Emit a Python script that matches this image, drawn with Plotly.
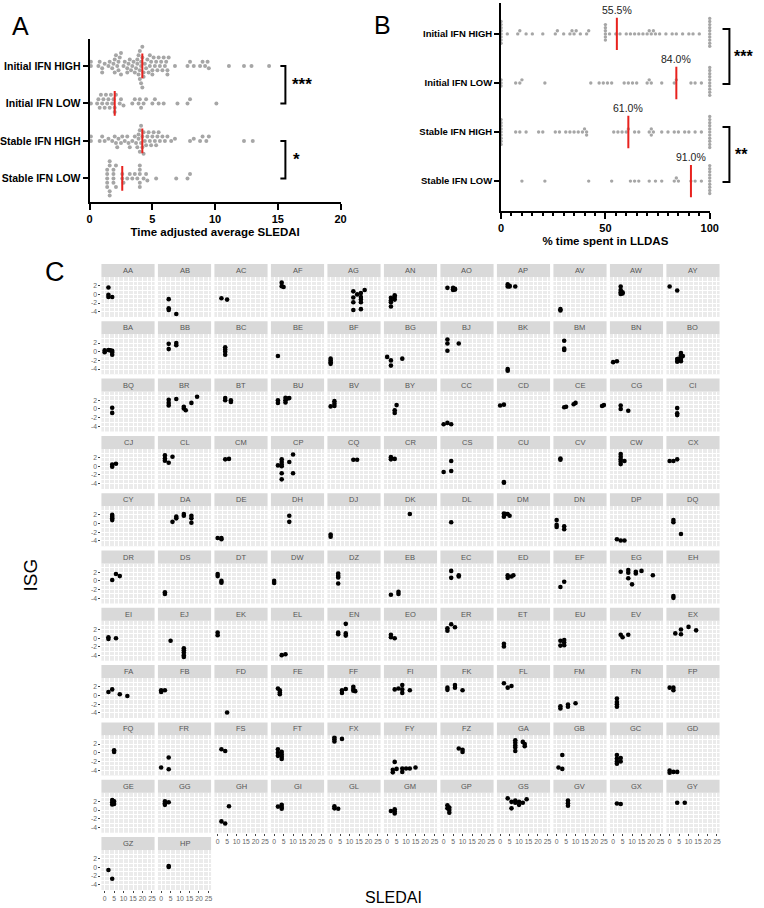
import plotly.graph_objects as go

W, H = 764, 908

# ---------------- data: panel A (time adjusted average SLEDAI) ----------------
groups = ["Initial IFN HIGH", "Initial IFN LOW", "Stable IFN HIGH", "Stable IFN LOW"]

sledai_initial_high = [0.1, 0.1, 0.7, 0.8, 1.0, 1.0, 1.2, 1.5, 1.6, 1.8, 1.9, 2.0, 2.0, 2.1, 2.2, 2.3,
                       2.3, 2.4, 2.5, 2.5, 2.7, 2.8, 3.0, 3.0, 3.1, 3.2, 3.3, 3.4, 3.5, 3.6, 3.7, 3.8,
                       3.8, 3.9, 3.9, 4.0, 4.0, 4.0, 4.1, 4.1, 4.1, 4.2, 4.2, 4.2, 4.3, 4.3, 4.4, 4.5,
                       4.6, 4.7, 4.8, 4.8, 4.9, 5.0, 5.0, 5.1, 5.2, 5.3, 5.4, 5.5, 5.6, 5.7, 5.8, 5.9,
                       6.0, 6.1, 6.2, 6.2, 6.3, 6.8, 7.8, 8.0, 8.3, 8.8, 9.0, 9.2, 9.4, 9.5, 11.1,
                       12.3, 12.9, 14.3]
sledai_initial_low = [0.1, 0.6, 0.7, 0.8, 0.9, 1.0, 1.1, 1.2, 1.3, 1.4, 1.5, 1.6, 1.7, 1.8, 1.9, 2.0,
                      2.0, 2.1, 2.4, 2.5, 2.7, 3.4, 3.6, 3.9, 4.0, 4.1, 4.3, 4.5, 5.0, 5.2, 5.5, 5.9,
                      7.0, 7.8, 8.0, 10.1]
sledai_stable_high = [0.1, 0.1, 0.8, 1.0, 1.2, 1.5, 1.8, 2.0, 2.1, 2.2, 2.3, 2.5, 2.6, 2.8, 3.0, 3.1,
                      3.2, 3.4, 3.6, 3.7, 3.8, 3.9, 3.9, 4.0, 4.0, 4.1, 4.1, 4.2, 4.2, 4.3, 4.3, 4.4,
                      4.5, 4.6, 4.7, 4.8, 4.9, 5.0, 5.1, 5.2, 5.3, 5.4, 5.5, 5.6, 5.8, 6.0, 6.2, 6.5,
                      6.8, 8.0, 8.3, 8.8, 9.0, 9.3, 9.5, 12.3, 13.0]
sledai_stable_low = [1.4, 1.4, 1.4, 1.4, 1.4, 1.6, 1.6, 1.6, 1.6, 1.9, 1.9, 1.9, 1.9, 2.1, 2.1, 2.6,
                     2.6, 2.7, 3.0, 3.2, 3.4, 3.6, 3.8, 4.0, 4.0, 4.0, 4.0, 4.0, 4.3, 4.5, 4.6, 5.3,
                     6.9, 7.8, 8.0]
sledai_medians = [4.2, 2.0, 4.2, 2.6]
sledai_ticks = [0, 5, 10, 15, 20]

# ---------------- data: panel B (% time spent in LLDAS) ----------------
lldas_initial_high = [0, 0, 0, 0, 0, 0, 0, 0, 3, 8, 9, 12, 15, 20, 26, 27, 30, 33, 34, 35, 36, 38,
                      41, 42, 50, 50, 50, 50, 50, 50, 52, 55, 57, 60, 62, 64, 66, 68, 70, 71, 72,
                      73, 74, 76, 79, 82, 84, 87, 90, 92, 95,
                      100, 100, 100, 100, 100, 100, 100, 100, 100, 100]
lldas_initial_low = [0, 0, 0, 7, 9, 10, 21, 43, 47, 49, 51, 53, 59, 61, 63, 65, 70, 71, 72, 77, 83,
                     84, 91, 93, 96, 100, 100, 100, 100, 100, 100, 100, 100, 100, 100]
lldas_stable_high = [0, 0, 0, 0, 0, 0, 0, 0, 0, 7, 9, 12, 18, 20, 26, 28, 31, 33, 35, 37, 39, 40,
                     41, 41, 54, 56, 58, 60, 61, 64, 66, 71, 72, 72, 73, 77, 80, 83, 85, 88, 90,
                     93, 96, 100, 100, 100, 100, 100, 100, 100, 100, 100, 100, 100]
lldas_stable_low = [10, 21, 42, 53, 62, 64, 66, 71, 74, 77, 83, 84, 85, 91, 93, 96,
                    100, 100, 100, 100, 100, 100, 100, 100, 100, 100]
lldas_medians = [55.5, 84.0, 61.0, 91.0]
lldas_ticks = [0, 50, 100]

# ---------------- data: panel C (ISG vs SLEDAI per patient) ----------------
facet_ids = ["AA", "AB", "AC", "AF", "AG", "AN", "AO", "AP", "AV", "AW", "AY",
             "BA", "BB", "BC", "BE", "BF", "BG", "BJ", "BK", "BM", "BN", "BO",
             "BQ", "BR", "BT", "BU", "BV", "BY", "CC", "CD", "CE", "CG", "CI",
             "CJ", "CL", "CM", "CP", "CQ", "CR", "CS", "CU", "CV", "CW", "CX",
             "CY", "DA", "DE", "DH", "DJ", "DK", "DL", "DM", "DN", "DP", "DQ",
             "DR", "DS", "DT", "DW", "DZ", "EB", "EC", "ED", "EF", "EG", "EH",
             "EI", "EJ", "EK", "EL", "EN", "EO", "ER", "ET", "EU", "EV", "EX",
             "FA", "FB", "FD", "FE", "FF", "FI", "FK", "FL", "FM", "FN", "FP",
             "FQ", "FR", "FS", "FT", "FX", "FY", "FZ", "GA", "GB", "GC", "GD",
             "GE", "GG", "GH", "GI", "GL", "GM", "GP", "GS", "GV", "GX", "GY",
             "GZ", "HP"]

facet_sledai = [
    [2, 2, 2, 4], [4, 4, 4, 8], [2, 5], [4, 4, 5], [12, 12, 12, 12, 14, 16, 16, 16, 16, 16, 18],
    [2, 2, 2, 2, 4, 4, 4], [2, 5, 5, 6, 5, 6], [4, 4, 5, 5, 8], [2, 2], [4, 4, 4, 5, 4, 5], [0, 4],
    [0, 0, 2, 3, 4, 4, 4], [4, 4, 8, 8], [4, 4, 4, 4], [2], [0, 0, 0, 0], [0, 2, 2, 8],
    [2, 2, 2, 8], [4, 4], [4, 4, 4], [0, 2], [4, 4, 6, 6, 7, 6, 6, 5],
    [4, 4], [4, 4, 4, 8, 12, 12, 13, 16, 19], [4, 4, 7, 7], [2, 2, 6, 6, 6, 8, 7], [0, 2, 2, 2],
    [4, 4, 5], [0, 2, 4], [0, 2], [4, 5, 9, 10, 24, 25], [4, 4, 8], [4, 4, 4],
    [4, 4, 6], [2, 2, 2, 4, 6], [4, 6], [2, 4, 4, 4, 4, 8, 10, 4, 10, 4], [12, 14], [2, 2, 4],
    [4, 0, 4], [2, 2], [2, 2], [4, 4, 4, 4, 4, 6], [0, 2, 4],
    [4, 4, 4, 4], [6, 8, 8, 12, 12, 16, 16, 16], [0, 2, 2], [8, 8], [0, 0], [12], [4],
    [2, 2, 3, 4, 5], [0, 0, 0, 4, 4], [2, 4, 6], [2, 2, 6],
    [4, 6, 8], [2, 2], [0, 0, 2, 2], [0, 0], [4, 4, 4, 4], [2, 6, 6], [4, 4, 8, 8], [4, 4, 6, 7],
    [2, 4], [4, 8, 8, 8, 10, 12, 12, 15, 21], [2, 2],
    [2, 2, 6], [5, 12, 12, 12, 12, 12], [0, 0], [4, 6], [4, 4, 8, 8, 8], [2, 2, 4], [2, 2, 4, 6],
    [2, 2], [2, 2, 4, 4, 4], [4, 5, 8], [3, 6, 6, 10, 14],
    [2, 4, 8, 12], [0, 0, 2], [5], [2, 3, 3, 3], [6, 6, 8, 12, 12, 12, 13], [4, 6, 8, 8, 8, 12],
    [2, 2, 6, 6, 10], [2, 4, 6], [2, 2, 6, 6, 10], [2, 2, 2, 2], [0, 2, 2],
    [5, 5], [0, 4, 4], [2, 4], [2, 2, 2, 4, 4, 4, 4], [2, 2, 2, 6], [4, 3, 3, 5, 8, 8, 10, 12, 15],
    [8, 10, 10], [8, 8, 8, 8, 8, 12, 13, 13], [3, 1, 3], [2, 2, 2, 2, 4, 4], [0, 0, 2, 4],
    [4, 4, 4, 5, 5], [2, 2, 2, 4], [6, 2, 4], [2, 4, 4, 4], [2, 2, 4], [2, 4, 4, 4],
    [2, 2, 3, 3, 3], [4, 6, 6, 8, 8, 10, 10, 12, 14], [6, 6, 6], [2, 4], [4, 8],
    [2, 4], [4, 4],
]

facet_isg = [
    [1.6, -0.1, -0.6, -0.6], [-1.1, -3.2, -3.6, -4.5], [-0.9, -1.2], [2.7, 1.9, 1.7],
    [0.7, -0.7, -1.8, -3.6, 0.0, 0.3, -0.6, -1.2, -1.8, -3.4, 1.0],
    [-0.8, -1.4, -1.8, -2.8, -0.2, -0.6, -1.2], [1.5, 1.5, 1.2, 1.1, 1.0, 1.3],
    [2.3, 1.8, 2.0, 1.8, 1.8], [-3.4, -3.7], [1.8, 1.0, 0.5, 0.5, 0.1, 0.2], [1.8, 0.9],
    [0.3, -0.1, 0.4, 0.3, 0.2, -0.2, -0.7], [1.8, 0.6, 2.0, 1.5], [1.0, 0.5, 0.0, -0.7], [-1.0],
    [-1.6, -2.0, -2.4, -2.8], [-1.2, -2.0, -3.2, -1.6],
    [2.8, 1.9, 0.2, 1.9], [-4.0, -4.4], [2.5, 0.7, 0.4], [-2.4, -2.2],
    [-1.7, -2.3, -0.3, -0.8, -1.0, -1.6, -2.2, -1.6],
    [0.3, -0.9], [2.1, 1.4, 0.8, 2.3, 0.5, 0.1, -0.3, 1.4, 2.8], [2.5, 2.0, 2.0, 1.6],
    [2.0, 1.4, 2.6, 2.0, 1.5, 2.5, 2.4], [0.6, 1.8, 1.2, 0.7],
    [-0.3, -0.9, 0.9], [-3.5, -3.2, -3.5], [0.8, 1.0], [0.4, 0.5, 1.1, 1.4, 0.7, 0.9],
    [0.8, 0.0, -0.4], [0.2, -1.0, -1.4],
    [0.4, -0.1, 0.6], [2.5, 1.8, 1.3, 0.8, 2.2], [1.6, 1.7],
    [0.2, 1.6, 1.0, 0.4, 0.0, 1.0, 2.7, -1.6, -1.6, -3.0], [1.5, 1.5], [2.1, 1.6, 1.7],
    [1.2, -1.3, -1.1], [-3.6, -3.8], [1.8, 1.5], [2.8, 2.2, 1.6, 1.1, 0.5, 1.2], [1.2, 1.2, 1.6],
    [2.0, 1.6, 1.2, 0.8], [0.4, 1.6, 1.2, 2.2, 1.8, 1.8, 1.2, 0.2], [-3.3, -3.3, -3.6], [1.8, 0.4],
    [-2.5, -3.0], [2.2], [0.3],
    [2.3, 1.6, 2.2, 2.2, 1.8], [0.8, -0.3, -0.8, -0.6, -1.3], [-3.6, -3.9, -3.9], [0.8, 0.3, -2.4],
    [0.2, 1.6, 1.1], [-2.6, -3.0], [1.6, 1.1, 0.0, -0.4], [0.0, -0.5], [1.7, 1.2, 0.8, -0.6],
    [-3.2, -2.5, -3.0], [2.3, 0.7, 1.3, 1.0], [1.3, 0.7, 1.0, 1.3],
    [-1.4, -0.2], [2.1, 2.5, 1.9, 0.6, -0.8, 2.1, 1.7, 2.3, 1.3], [-3.5, -3.9],
    [0.2, -0.2, 0.0], [-0.6, -2.3, -2.8, -3.3, -3.9, -4.3], [1.3, 0.7], [-3.9, -3.7],
    [1.3, 0.9, 3.3, 1.1, 0.6], [0.8, 0.2, 0.0], [2.3, 1.7, 3.2, 2.5],
    [-1.3, -1.9], [-0.6, -1.7, -0.4, -1.0, -1.6], [0.8, 0.2, 0.8], [1.1, 2.0, 0.9, 2.6, 1.8],
    [0.8, 1.4, 0.3, -0.1], [1.2, 0.8, 1.2], [-3.9], [1.6, 1.2, 0.7, 0.3],
    [1.2, 0.6, 1.5, 2.0, 1.5, 1.1, 1.0], [1.4, 1.6, 2.4, 1.4, 0.6, 1.2],
    [1.8, 1.3, 2.4, 1.8, 1.2], [2.8, 1.8, 2.2], [-2.5, -3.0, -2.1, -2.6, -1.8],
    [-0.7, -1.5, -2.0, -2.6], [1.8, 1.8, 1.2],
    [0.6, 0.2], [-3.4, -1.1, -3.8], [0.8, 0.4], [0.8, 0.0, -0.7, 0.2, -0.4, -0.9, -1.4],
    [3.5, 3.1, 2.6, 3.2], [-2.1, -3.9, -4.5, -3.7, -3.6, -4.4, -3.6, -3.6, -3.4],
    [1.0, 0.7, 0.2], [2.9, 2.3, 1.7, 1.2, 0.4, 2.5, 2.0, 1.5], [-0.5, -3.4, -3.7],
    [-0.5, -1.3, -2.0, -2.5, -1.2, -2.0], [-4.1, -4.6, -4.4, -4.4],
    [2.3, 1.8, 1.3, 2.0, 1.4], [2.0, 1.6, 1.2, 1.8], [0.9, -2.6, -3.1], [0.8, 1.2, 0.7, 0.3],
    [0.9, 0.4, 0.3], [-0.2, 0.2, -0.3, -0.8],
    [1.1, 0.4, 0.6, 0.0, -0.6], [2.7, 1.9, 0.4, 2.2, 1.7, 1.9, 1.2, 1.7, 2.5], [2.2, 1.6, 1.0],
    [1.5, 1.4], [1.7, 1.7],
    [-0.6, -2.6], [0.3, 0.1],
]
facet_xticks = [0, 5, 10, 15, 20, 25]
facet_yticks = [-4, -2, 0, 2]

# ---------------- layout constants (pixels) ----------------
FONT = "Liberation Sans, Arial, sans-serif"
GREY = "#a6a6a6"
RED = "#e8221e"

A_L, A_R, A_T, A_B = 88, 343, 39, 202
A_XR, A_YR = [0, 20], [-0.63, 3.72]
B_L, B_R, B_T, B_B = 506, 718, 3, 211
B_XR, B_YR = [0, 100], [-0.61, 3.63]

FC_L, FC_DX, FC_W = 100, 57.4, 54
FC_T, FC_DY, FC_H, STRIP = 277, 57.3, 40, 13
FC_XR, FC_YR = [-1.7, 26.4], [-5.2, 4.0]


def px_x(p):
    return p / W


def px_y(p):
    return 1 - p / H


def swarm(values, upx, d):
    """beeswarm offsets (pixels) so that no two dots overlap"""
    placed = []
    offs = [0.0] * len(values)
    step = d / 2.0
    for i in sorted(range(len(values)), key=lambda j: values[j]):
        xp = values[i] * upx
        near = [(a, b) for a, b in placed if abs(a - xp) < d]
        cand = 0.0
        for k in range(400):
            mag = ((k + 1) // 2) * step
            cand = mag if k % 2 == 1 else -mag
            if all((a - xp) ** 2 + (b - cand) ** 2 >= d * d - 1e-9 for a, b in near):
                break
        placed.append((xp, cand))
        offs[i] = cand
    return offs


def paper_text(text, x, y, size, **kw):
    d = dict(x=px_x(x), y=px_y(y), xref="paper", yref="paper", text=text, showarrow=False,
             xanchor="center", yanchor="middle",
             font=dict(family=FONT, size=size, color=kw.pop("color", "black")))
    d.update(kw)
    return d


fig = go.Figure()
shapes, annotations = [], []
layout = {}

# ---------------- panel A ----------------
a_sets = [sledai_initial_high, sledai_initial_low, sledai_stable_high, sledai_stable_low]
a_upx = (A_R - A_L) / (A_XR[1] - A_XR[0])
a_upy = (A_B - A_T) / (A_YR[1] - A_YR[0])
a_pos = [3, 2, 1, 0]
for vals, k in zip(a_sets, a_pos):
    off = swarm(vals, a_upx, 4.3)
    fig.add_trace(go.Scatter(x=vals, y=[k + o / a_upy for o in off], mode="markers",
                             marker=dict(size=4, color=GREY), xaxis="x", yaxis="y",
                             cliponaxis=False, showlegend=False, hoverinfo="skip"))
for m, k in zip(sledai_medians, a_pos):
    fig.add_trace(go.Scatter(x=[m, m], y=[k - 0.33, k + 0.33], mode="lines",
                             line=dict(color=RED, width=2), xaxis="x", yaxis="y",
                             showlegend=False, hoverinfo="skip"))

layout["xaxis"] = dict(domain=[px_x(A_L), px_x(A_R)], anchor="y", range=A_XR,
                       tickvals=sledai_ticks, showline=True, linecolor="black", linewidth=2,
                       ticks="outside", ticklen=6, tickwidth=2, tickcolor="black",
                       showgrid=False, zeroline=False,
                       tickfont=dict(family=FONT, size=11, color="black", weight="bold"),
                       title=dict(text="<b>Time adjusted average SLEDAI</b>", standoff=4,
                                  font=dict(family=FONT, size=11.5, color="black")))
layout["yaxis"] = dict(domain=[px_y(A_B), px_y(A_T)], anchor="x", range=A_YR,
                       tickvals=a_pos, ticktext=["<b>%s</b>" % g for g in groups],
                       showline=True, linecolor="black", linewidth=2,
                       ticks="outside", ticklen=5, tickwidth=2, tickcolor="black",
                       showgrid=False, zeroline=False,
                       tickfont=dict(family=FONT, size=10.5, color="black"))

# brackets A (data coordinates)
for (y0, y1, txt, tx) in [(3, 2, "***", 16.9), (1, 0, "*", 16.5)]:
    shapes.append(dict(type="path", xref="x", yref="y",
                       path="M 15.2 %f L 15.6 %f L 15.6 %f L 15.2 %f" % (y0, y0, y1, y1),
                       line=dict(color="black", width=2)))
    annotations.append(dict(x=tx, y=(y0 + y1) / 2, xref="x", yref="y", text="<b>%s</b>" % txt,
                            showarrow=False, xanchor="center", yanchor="middle",
                            font=dict(family=FONT, size=17, color="black")))

# ---------------- panel B ----------------
b_sets = [lldas_initial_high, lldas_initial_low, lldas_stable_high, lldas_stable_low]
b_upx = (B_R - B_L) / (B_XR[1] - B_XR[0])
b_upy = (B_B - B_T) / (B_YR[1] - B_YR[0])
for vals, k in zip(b_sets, a_pos):
    off = swarm(vals, b_upx, 3.1)
    fig.add_trace(go.Scatter(x=vals, y=[k + o / b_upy for o in off], mode="markers",
                             marker=dict(size=3.4, color=GREY), xaxis="x2", yaxis="y2",
                             cliponaxis=False, showlegend=False, hoverinfo="skip"))
for m, k in zip(lldas_medians, a_pos):
    fig.add_trace(go.Scatter(x=[m, m], y=[k - 0.33, k + 0.33], mode="lines",
                             line=dict(color=RED, width=2), xaxis="x2", yaxis="y2",
                             cliponaxis=False, showlegend=False, hoverinfo="skip"))
    annotations.append(dict(x=m, y=k + 0.33, xref="x2", yref="y2", text="%.1f%%" % m,
                            showarrow=False, xanchor="center", yanchor="bottom", yshift=0,
                            font=dict(family=FONT, size=10.5, color="#222")))

layout["xaxis2"] = dict(domain=[px_x(B_L), px_x(B_R)], anchor="y2", range=B_XR,
                        tickvals=lldas_ticks, showline=True, linecolor="black", linewidth=2,
                        ticks="outside", ticklen=6, tickwidth=2, tickcolor="black",
                        minor=dict(ticks="outside", dtick=5, tick0=0, ticklen=3, tickwidth=1.5,
                                   tickcolor="black"),
                        showgrid=False, zeroline=False,
                        tickfont=dict(family=FONT, size=11, color="black", weight="bold"),
                        title=dict(text="<b>% time spent in LLDAS</b>", standoff=4,
                                   font=dict(family=FONT, size=11.5, color="black")))
layout["yaxis2"] = dict(domain=[px_y(B_B), px_y(B_T)], anchor="x2", range=B_YR,
                        tickvals=a_pos, ticktext=["<b>%s</b>" % g for g in groups],
                        showline=True, linecolor="black", linewidth=2,
                        ticks="outside", ticklen=5, tickwidth=2, tickcolor="black",
                        showgrid=False, zeroline=False,
                        tickfont=dict(family=FONT, size=9.5, color="black"))


def b_py(k):
    return B_T + (B_YR[1] - k) * b_upy


for (y0, y1, txt, tx) in [(3, 2, "***", 752), (1, 0, "**", 750)]:
    p0, p1 = b_py(y0) - 5, b_py(y1) + 1
    shapes.append(dict(type="path", xref="paper", yref="paper",
                       path="M %f %f L %f %f L %f %f L %f %f" % (px_x(731), px_y(p0), px_x(738), px_y(p0),
                                                                px_x(738), px_y(p1), px_x(731), px_y(p1)),
                       line=dict(color="black", width=2)))
    annotations.append(paper_text("<b>%s</b>" % txt, tx, (p0 + p1) / 2, 16))

# ---------------- panel C (facets) ----------------
nf = len(facet_ids)
for i, fid in enumerate(facet_ids):
    n = i + 3
    r, c = divmod(i, 11)
    left = FC_L + FC_DX * c
    top = FC_T + FC_DY * r
    show_x = (i + 11 >= nf)
    show_y = (c == 0)
    fig.add_trace(go.Scatter(x=facet_sledai[i], y=facet_isg[i], mode="markers",
                             marker=dict(size=4.6, color="black"),
                             xaxis="x%d" % n, yaxis="y%d" % n,
                             showlegend=False, hoverinfo="skip"))
    layout["xaxis%d" % n] = dict(
        domain=[px_x(left), px_x(left + FC_W)], anchor="y%d" % n, range=FC_XR,
        tickmode="array", tickvals=facet_xticks, tickangle=0,
        showgrid=True, gridcolor="white", gridwidth=1,
        minor=dict(tick0=0, dtick=2.5, showgrid=True, gridcolor="white", gridwidth=0.5),
        zeroline=False, showline=False, showticklabels=show_x,
        ticks="outside" if show_x else "", ticklen=2, tickwidth=0.8, tickcolor="#444",
        tickfont=dict(family=FONT, size=6.8, color="#666"))
    layout["yaxis%d" % n] = dict(
        domain=[px_y(top + FC_H), px_y(top)], anchor="x%d" % n, range=FC_YR,
        tickmode="array", tickvals=facet_yticks, ticktext=[str(t) for t in facet_yticks],
        showgrid=True, gridcolor="white", gridwidth=1,
        minor=dict(tick0=-5, dtick=1, showgrid=True, gridcolor="white", gridwidth=0.5),
        zeroline=False, showline=False, showticklabels=show_y,
        ticks="outside" if show_y else "", ticklen=2, tickwidth=0.8, tickcolor="#444",
        tickfont=dict(family=FONT, size=6.8, color="#666"))
    shapes.append(dict(type="rect", xref="x%d domain" % n, yref="y%d domain" % n,
                       x0=0, x1=1, y0=0, y1=1, fillcolor="#ebebeb", line=dict(width=0),
                       layer="below"))
    shapes.append(dict(type="rect", xref="paper", yref="paper",
                       x0=px_x(left), x1=px_x(left + FC_W), y0=px_y(top), y1=px_y(top - STRIP),
                       fillcolor="#d9d9d9", line=dict(width=0), layer="below"))
    annotations.append(paper_text(fid, left + FC_W / 2, top - STRIP / 2, 7.5, color="#555"))

# ---------------- panel letters and facet axis titles ----------------
annotations.append(paper_text("A", 18, 26, 25))
annotations.append(paper_text("B", 386, 25, 25))
annotations.append(paper_text("C", 53, 272, 27))
annotations.append(paper_text("ISG", 27, 575, 19, textangle=-90))
annotations.append(paper_text("SLEDAI", 397, 897, 16))

layout.update(dict(width=W, height=H, margin=dict(l=0, r=0, t=0, b=0),
                   paper_bgcolor="white", plot_bgcolor="rgba(0,0,0,0)",
                   shapes=shapes, annotations=annotations, showlegend=False,
                   font=dict(family=FONT)))
fig.update_layout(**layout)
fig.write_html("out.html", config={"displayModeBar": False},
               post_script="document.body.style.margin='0px';document.body.style.padding='0px';")
